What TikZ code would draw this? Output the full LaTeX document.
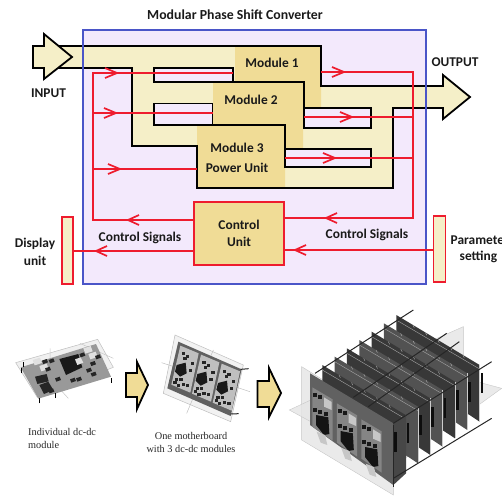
\documentclass[tikz,border=0pt]{standalone}
\usepackage{fontspec}
\setmainfont{Carlito}
\newfontfamily\capfont{Liberation Serif}
\usetikzlibrary{calc}
\definecolor{lav}{HTML}{F3E9FC}
\definecolor{pale}{HTML}{F5EFC8}
\definecolor{tan}{HTML}{F0DC96}
\definecolor{sigred}{HTML}{EE1C2E}
\definecolor{blu}{HTML}{4A55C8}
\definecolor{ink}{HTML}{1A1A1A}
\tikzset{
  sig/.style={draw=sigred,line width=1.7pt,line join=miter},
  blk/.style={draw=black,line width=1.8pt,line join=miter},
  lbl/.style={font=\bfseries\fontsize{13.4}{16}\selectfont,text=ink,align=center,inner sep=0pt},
  sidebar/.style={draw=sigred,line width=1.8pt,fill=pale,inner sep=0pt},
  ctl/.style={draw=sigred,line width=1.8pt,fill=tan,inner sep=0pt,align=center,font=\bfseries\fontsize{13.4}{17}\selectfont,text=ink},
  captext/.style={font=\capfont\fontsize{10.3}{13}\selectfont,text=black!85,inner sep=0pt,align=left},
  paneplane/.style={fill=black!10,draw=black!22,line width=.4pt,fill opacity=.8},
  fatarrow/.style={draw=black,line width=1.8pt,fill=tan,line join=miter},
  rodline/.style={draw=black!85,line width=1pt},
  zoomed/.style={x=0.333333pt,y=-0.333333pt}
}
\newcommand\chevR[2]{\draw[sig,shift={(#1,#2)}] (-12,-5) -- (0,0) -- (-12,5);}
\newcommand\chevL[2]{\draw[sig,shift={(#1,#2)}] (11,-5) -- (0,0) -- (11,5);}
\begin{document}
\begin{tikzpicture}[x=1pt,y=-1pt]
\useasboundingbox (0,0) rectangle (502,496);
\clip (0,0) rectangle (502,496);
% interior
\fill[lav] (83,30) rectangle (426,284);
% power path
\fill[pale] (44,46) -- (321,46) -- (321,86) -- (443,86) -- (443,108) -- (393,108) -- (393,188) -- (197,188) -- (197,146) -- (132,146) -- (132,68) -- (44,68) -- cycle;
\fill[pale] (443,75) -- (470,97) -- (443,119) -- cycle;
\fill[tan] (235,46) -- (321,46) -- (321,108) -- (303,108) -- (303,149) -- (285,149) -- (285,188) -- (197,188) -- (197,126) -- (213,126) -- (213,82) -- (235,82) -- cycle;
\draw[blk,fill=lav] (154,68) rectangle (233,82);
\draw[blk,fill=lav] (154,103.5) rectangle (212.5,125);
\draw[blk,fill=lav] (304,108) rectangle (371,128);
\draw[blk,fill=lav] (285,149) rectangle (371,167);
\draw[blk] (58,46) -- (321,46) -- (321,86) -- (443,86) -- (443,75) -- (470,97) -- (443,119) -- (443,108) -- (393,108) -- (393,188) -- (197,188) -- (197,146) -- (132,146) -- (132,68) -- (58,68);
\draw[blk] (233,82) -- (304,82) -- (304,108);
\draw[blk] (212.5,125) -- (285,125) -- (285,149);
\draw[blk,fill=pale] (33,46) -- (44,46) -- (44,34) -- (72,57) -- (44,79) -- (44,68) -- (33,68) -- cycle;
\draw[draw=blu,line width=1.8pt] (83,30) rectangle (426,284);
% labels
\node[lbl,font=\bfseries\fontsize{13.8}{16}\selectfont] (title) at (235,15) {Modular Phase Shift Converter};
\node[lbl] (input) at (48.5,93) {INPUT};
\node[lbl] (output) at (455,62) {OUTPUT};
\node[lbl] (m1) at (272,63) {Module 1};
\node[lbl] (m2) at (251,100) {Module 2};
\node[lbl] (m3a) at (237,148) {Module 3};
\node[lbl] (m3b) at (237,168) {Power Unit};
\node[ctl,minimum width=90pt,minimum height=63pt] (ctrl) at (239,233.5) {Control\\Unit};
\node[sidebar,minimum width=11pt,minimum height=67pt] (disp) at (67.5,250.5) {};
\node[sidebar,minimum width=12pt,minimum height=66pt] (param) at (439.5,249) {};
\node[lbl] (cs1) at (140,237.5) {Control Signals};
\node[lbl] (cs2) at (367,235) {Control Signals};
\node[lbl,font=\bfseries\fontsize{13.4}{17.5}\selectfont] (dl) at (35,252) {Display\\unit};
\node[lbl,font=\bfseries\fontsize{13.4}{16}\selectfont,anchor=west,align=left] (pl) at (450.5,249) {Parameter\\\hspace*{9pt}setting};
% signal coordinates
\coordinate (lt) at (93,73);
\coordinate (lb) at (93,220);
\coordinate (rt) at (413,72);
\coordinate (rb) at (413,218);
\coordinate (s1) at (233,73);
\coordinate (s2) at (213,113);
\coordinate (s3) at (197,169);
\coordinate (o1) at (321,72);
\coordinate (o2) at (304,117);
\coordinate (o3) at (285,158);
\coordinate (ya) at (0,251);
\coordinate (yb) at (0,250);
\draw[sig] (s1) -- (lt) -- (lb) -- (ctrl.west |- lb);
\draw[sig] (s2) -- (lt |- s2);
\draw[sig] (s3) -- (lt |- s3);
\draw[sig] (o1) -- (rt) -- (rb) -- (ctrl.east |- rb);
\draw[sig] (o2) -- (rt |- o2);
\draw[sig] (o3) -- (rt |- o3);
\draw[sig] (ctrl.west |- ya) -- (disp.east |- ya);
\draw[sig] (param.west |- yb) -- (ctrl.east |- yb);
\chevR{117}{73}\chevR{116}{113}\chevR{120}{169}
\chevR{344}{72}\chevR{352}{117}\chevR{335}{158}
\chevL{128}{220}\chevL{96}{251}\chevL{326}{218}\chevL{295}{250}
% --- first picture
\begin{scope}[shift={(0,310)},zoomed]
\draw[draw=black!25,fill=black!6,line width=.5pt] (47,158) -- (293,88) -- (340,172) -- (112,262) -- cycle;
\draw[draw=black!22,line width=.5pt] (150,115) -- (150,205) -- (205,265) (240,100) -- (340,145);
\fill[black!40] (62,172) -- (288,102) -- (333,200) -- (115,266) -- cycle;
\foreach \a/\b in {65/190,118/280,165/264,335/218,70/172}{\draw[black,line width=.8pt] (\a,\b) -- +(0,-15);}
\fill[black!90] (178,147) -- (235,132) -- (247,172) -- (198,195) -- cycle;
\fill[black!12] (225,148) -- (242,142) -- (250,158) -- (232,165) -- cycle;
\foreach \a/\b in {98/150,118/168,250/115,265/132}{\fill[black!12] (\a,\b) -- ++(22,-7) -- ++(6,16) -- ++(-22,7) -- cycle;}
\foreach \a/\b in {126/152,146/150,135/175,110/205,125/225,145/240,165/205,210/208,228/205,258/178,272/190,238/132,285/138,270/158}{\fill[black!85] (\a,\b) -- ++(14,-5) -- ++(4,10) -- ++(-14,5) -- cycle;}
\fill[black!85] (105,200) -- (140,192) -- (146,214) -- (112,222) -- cycle;
\fill[black!85] (118,225) -- (145,215) -- (160,240) -- (132,252) -- cycle;
% --- second picture
\draw[draw=black!25,fill=black!5,line width=.5pt] (525,75) -- (730,165) -- (692,335) -- (490,250) -- cycle;
\draw[draw=black!25,line width=.5pt] (485,158) -- (750,245) (640,120) -- (560,310);
\fill[black!62] (535,95) -- (725,178) -- (692,318) -- (502,235) -- cycle;
\draw[black!85,line width=1pt] (722,178) -- (746,176) (692,312) -- (716,311);
\foreach \k in {0,1,2}{
\begin{scope}[xshift=\k*20.67pt,yshift=-\k*9pt]
\fill[black!25] (541,107) -- (596,130) -- (571,248) -- (514,224) -- cycle;
\fill[black!90] (530,165) -- (557,158) -- (560,190) -- (540,200) -- (525,185) -- cycle;
\foreach \a/\b in {545/125,558/135,550/142,572/155,566/178,525/205,538/205,545/218,558/222,530/222,520/212}{\fill[black!85] (\a,\b) rectangle ++(10,9);}
\end{scope}}
\end{scope}
% --- third picture
\begin{scope}[shift={(250,310)},zoomed]
\draw[paneplane] (155,170) -- (430,340) -- (430,555) -- (155,390) -- cycle;
\draw[paneplane] (640,50) -- (640,230) -- (430,340) -- (300,200) -- cycle;
\draw[paneplane] (118,300) -- (440,150) -- (755,235) -- (430,470) -- cycle;
\foreach \k/\c in {7/78,6/68,5/78,4/68,3/78,2/68,1/78}{
\begin{scope}[xshift=\k*12.33pt,yshift=\k*8.33pt]
\fill[black!\c] (180,190) -- (430,340) -- (430,510) -- (180,345) -- cycle;
\draw[black!20,line width=.5pt] (430,340) -- (430,510);
\draw[black!35,line width=.4pt] (180,205) -- (430,352);
\fill[black!95] (433,365) rectangle (441,425);
\foreach \t in {0.2,0.35,0.5,0.65,0.8}{\draw[black!30,line width=.4pt] ($(180,190)!\t!(430,340)$) -- ++(4,8);}
\end{scope}}
\fill[black!62] (180,190) -- (430,340) -- (430,525) -- (180,345) -- cycle;
\foreach \k in {0,1,2}{
\begin{scope}[xshift=\k*24.5pt,yshift=-\k*16pt]
\fill[black!48] (187,232) -- (248,268) -- (248,392) -- (187,350) -- cycle;
\fill[black!92] (198,315) -- (235,322) -- (238,372) -- (222,375) -- (198,345) -- cycle;
\fill[black!22] (200,365) -- (225,375) -- (232,405) -- (212,398) -- cycle;
\foreach \a/\b in {190/250,205/255,190/295,205/300,222/305}{\fill[black!90] (\a,\b) rectangle ++(12,12);}
\fill[black!22] (222,262) -- (245,276) -- (245,300) -- (222,290) -- cycle;
\end{scope}}
\fill[black!72] (430,340) -- (468,316) -- (468,490) -- (430,525) -- cycle;
\fill[black!95] (432,365) rectangle (440,425);
\draw[rodline] (195,190) -- (490,0);
\draw[rodline] (310,262) -- (590,70);
\draw[rodline] (355,290) -- (628,95);
\draw[rodline] (430,340) -- (725,155);
\draw[rodline] (430,505) -- (725,325);
\draw[rodline] (430,345) -- (430,530);
\end{scope}
% arrows
\draw[fatarrow] (126,373) -- (137,373) -- (137,362) -- (148,385) -- (137,409) -- (137,397) -- (126,397) -- cycle;
\draw[fatarrow] (257.5,381) -- (269,381) -- (269,368) -- (281,393) -- (269,417) -- (269,407) -- (257.5,407) -- cycle;
\node[captext,anchor=north west] (c1) at (28,428) {Individual dc-dc\\module};
\node[captext,align=center] (c2) at (191,442.5) {One motherboard\\with 3 dc-dc modules};
\end{tikzpicture}
\end{document}
